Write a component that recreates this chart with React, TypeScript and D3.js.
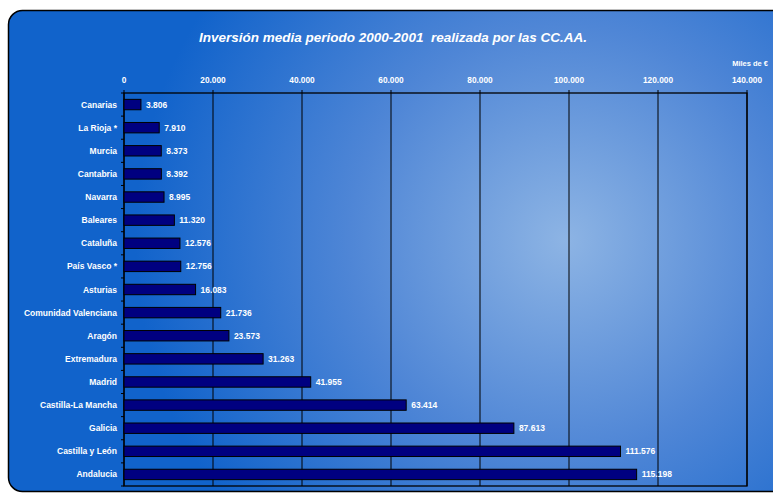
import * as d3 from 'd3';
import * as React from 'react';

const categories = [
  'Canarias', 'La Rioja *', 'Murcia', 'Cantabria', 'Navarra', 'Baleares', 'Cataluña',
  'País Vasco *', 'Asturias', 'Comunidad Valenciana', 'Aragón', 'Extremadura', 'Madrid',
  'Castilla-La Mancha', 'Galicia', 'Castilla y León', 'Andalucia',
];
const values = [
  3806, 7910, 8373, 8392, 8995, 11320, 12576, 12756, 16083, 21736, 23573, 31263, 41955,
  63414, 87613, 111576, 115198,
];
const xTicks = [0, 20000, 40000, 60000, 80000, 100000, 120000, 140000];

const W = 773;
const H = 494;
const plot = { left: 124, right: 747, top: 93, bottom: 486 };
const font = '"Liberation Sans", Arial, sans-serif';

const fmt = (v: number) => d3.format(',')(v).replace(/,/g, '.');

export default function App() {
  const x = d3.scaleLinear().domain([0, 140000]).range([plot.left, plot.right]);
  const y = d3.scaleBand<string>().domain(categories).range([plot.top, plot.bottom]).paddingInner(0.55).paddingOuter(0.275);
  const boundaries = d3.range(categories.length + 1).map((i) => plot.top + (plot.bottom - plot.top) * i / categories.length);

  return (
    <svg width={W} height={H} style={{ position: 'absolute', left: 0, top: 0 }} fontFamily={font}>
      <defs>
        <radialGradient id="bg" gradientUnits="userSpaceOnUse" cx={565} cy={240} r={430}>
          <stop offset="0" stopColor="#8db4e4" />
          <stop offset="0.5" stopColor="#4f86d6" />
          <stop offset="1" stopColor="#1163cb" />
        </radialGradient>
      </defs>
      <rect x={8.5} y={10.5} width={790} height={481} rx={14} fill="url(#bg)" stroke="#000" strokeWidth={1.5} />

      <text x={393} y={42} textAnchor="middle" fill="#fff" fontSize={13.5} fontWeight="bold" fontStyle="italic" style={{ whiteSpace: 'pre' }}>
        {'Inversión media periodo 2000-2001  realizada por las CC.AA.'}
      </text>
      <text x={768} y={66} textAnchor="end" fill="#fff" fontSize={7.5} fontWeight="bold">Miles de €</text>

      {xTicks.map((t) => (
        <g key={t}>
          <line x1={x(t)} x2={x(t)} y1={plot.top - 3} y2={plot.bottom} stroke="#000" strokeWidth={1} />
          <text x={x(t)} y={83} textAnchor="middle" fill="#fff" fontSize={8.3} fontWeight="bold">{fmt(t)}</text>
        </g>
      ))}
      <rect x={plot.left} y={plot.top} width={plot.right - plot.left} height={plot.bottom - plot.top} fill="none" stroke="#000" strokeWidth={1.3} />
      {boundaries.map((b, i) => (
        <line key={i} x1={plot.left - 3} x2={plot.left} y1={b} y2={b} stroke="#000" strokeWidth={1} />
      ))}

      {categories.map((c, i) => {
        const by = y(c)!;
        return (
          <g key={c}>
            <rect x={x(0)} y={by} width={x(values[i]) - x(0)} height={y.bandwidth()} fill="#000080" stroke="#000" strokeWidth={1} />
            <text x={117} y={by + y.bandwidth() / 2 + 3} textAnchor="end" fill="#fff" fontSize={8.5} fontWeight="bold">{c}</text>
            <text x={x(values[i]) + 5} y={by + y.bandwidth() / 2 + 3} fill="#fff" fontSize={8.5} fontWeight="bold">{fmt(values[i])}</text>
          </g>
        );
      })}
    </svg>
  );
}
